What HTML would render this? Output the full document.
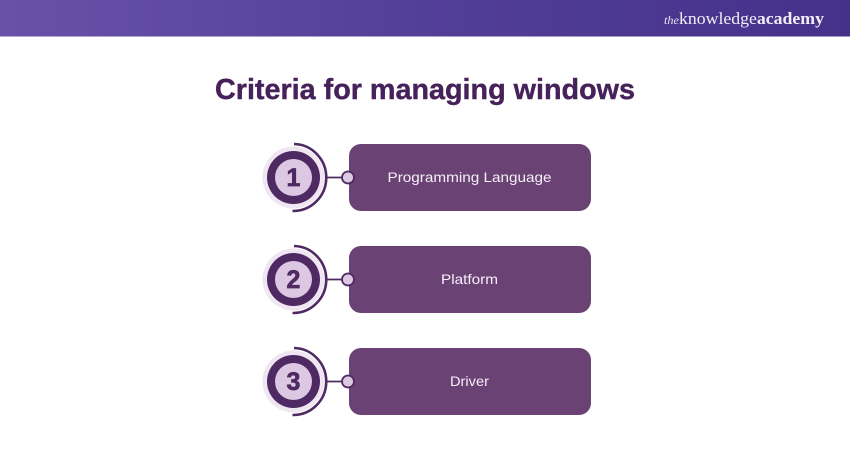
<!DOCTYPE html>
<html>
<head>
<meta charset="utf-8">
<style>
html,body{margin:0;padding:0;background:#fff}
svg{display:block}
text{font-family:"Liberation Sans",sans-serif}
</style>
</head>
<body>
<svg width="850" height="450" viewBox="0 0 850 450" xmlns="http://www.w3.org/2000/svg">
<defs>
<linearGradient id="h" x1="0" x2="1" y1="0" y2="0">
<stop offset="0" stop-color="#6a51a8"/>
<stop offset="0.5" stop-color="#523f98"/>
<stop offset="1" stop-color="#45318a"/>
</linearGradient>
<g id="badge">
<circle cx="293.5" cy="0" r="31" fill="#efe6f2"/>
<circle cx="293.5" cy="0" r="26.5" fill="#4f2a62"/>
<circle cx="293.5" cy="0" r="18.5" fill="#dcc8e2"/>
<path d="M294 -33.5A33 33.5 0 0 1 292.5 33.5" fill="none" stroke="#4f2a62" stroke-width="2.6"/>
<path d="M326 0H343" stroke="#4f2a62" stroke-width="1.8"/>
</g>
<g id="dot">
<circle cx="348" cy="0" r="6" fill="#dcc8e2" stroke="#4f2a62" stroke-width="1.8"/>
</g>
</defs>
<rect width="850" height="36.5" fill="url(#h)"/>
<text x="664" y="24" font-style="italic" font-size="12" fill="#e8e2f2" style="font-family:'Liberation Serif',serif" textLength="15" lengthAdjust="spacingAndGlyphs">the</text>
<text x="679" y="24" font-size="17" fill="#f2eef7" style="font-family:'Liberation Serif',serif" textLength="145" lengthAdjust="spacingAndGlyphs">knowledge<tspan font-weight="bold">academy</tspan></text>
<text x="425" y="99" text-anchor="middle" font-size="29" font-weight="bold" fill="#46215a" stroke="#46215a" stroke-width="0.4" textLength="420" lengthAdjust="spacingAndGlyphs">Criteria for managing windows</text>

<use href="#badge" transform="translate(0,177.5)"/>
<use href="#badge" transform="translate(0,279.5)"/>
<use href="#badge" transform="translate(0,381.5)"/>

<rect x="349" y="144" width="242" height="67" rx="12" fill="#6a4274"/>
<rect x="349" y="246" width="242" height="67" rx="12" fill="#6a4274"/>
<rect x="349" y="348" width="242" height="67" rx="12" fill="#6a4274"/>

<use href="#dot" transform="translate(0,177.5)"/>
<use href="#dot" transform="translate(0,279.5)"/>
<use href="#dot" transform="translate(0,381.5)"/>

<text x="293.5" y="186" text-anchor="middle" font-size="25" font-weight="bold" fill="#4f2a62" stroke="#4f2a62" stroke-width="0.7">1</text>
<text x="293.5" y="288" text-anchor="middle" font-size="25" font-weight="bold" fill="#4f2a62" stroke="#4f2a62" stroke-width="0.7">2</text>
<text x="293.5" y="390" text-anchor="middle" font-size="25" font-weight="bold" fill="#4f2a62" stroke="#4f2a62" stroke-width="0.7">3</text>

<text x="469.5" y="182" text-anchor="middle" font-size="14" fill="#f6f0f8" textLength="164" lengthAdjust="spacingAndGlyphs">Programming Language</text>
<text x="469.5" y="284" text-anchor="middle" font-size="14" fill="#f6f0f8" textLength="57" lengthAdjust="spacingAndGlyphs">Platform</text>
<text x="469.5" y="386" text-anchor="middle" font-size="14" fill="#f6f0f8" textLength="39" lengthAdjust="spacingAndGlyphs">Driver</text>
</svg>
</body>
</html>
